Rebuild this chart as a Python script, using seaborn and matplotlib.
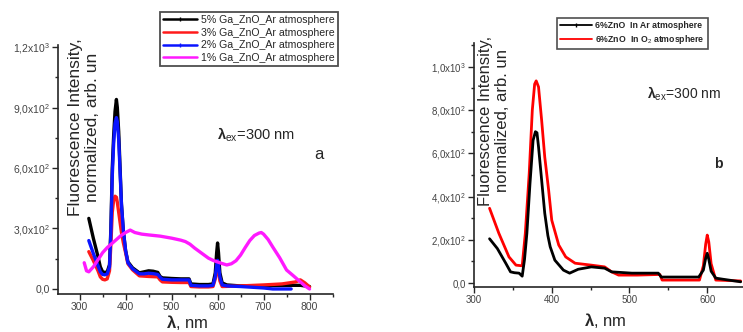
import numpy as np
import pandas as pd
import matplotlib
matplotlib.use("Agg")
import matplotlib.pyplot as plt
from matplotlib.ticker import FuncFormatter, MultipleLocator
import seaborn as sns

# -------------------------------------------------------------------------
# Data (wavelength nm, intensity arb. un)
# -------------------------------------------------------------------------

# panel a: Ga-doped ZnO in Ar
ga5_x = [320, 330, 340, 345, 350, 355, 360, 365, 368, 371, 374, 377, 380, 382, 385,
         388, 391, 395, 400, 405, 415, 430, 440, 450, 460, 470, 475, 480, 500, 520,
         538, 542, 560, 580, 590, 595, 598, 600, 602, 605, 610, 620, 650, 700, 750,
         780, 800]
ga5_y = [350, 250, 160, 110, 85, 82, 85, 120, 300, 600, 760, 880, 940, 900, 780,
         600, 420, 290, 190, 135, 105, 80, 85, 90, 88, 82, 62, 55, 52, 50,
         50, 25, 22, 22, 25, 80, 180, 228, 180, 80, 30, 20, 15, 16, 18,
         18, 12]

ga3_x = [320, 330, 340, 345, 350, 355, 360, 365, 368, 371, 374, 377, 380, 382, 385,
         388, 391, 395, 400, 405, 415, 430, 450, 470, 475, 480, 500, 520, 538, 542,
         560, 580, 590, 595, 598, 600, 602, 605, 610, 650, 700, 740, 770, 780, 790,
         800]
ga3_y = [185, 140, 90, 60, 48, 45, 50, 90, 220, 380, 440, 460, 455, 430, 380,
         330, 280, 230, 180, 125, 95, 65, 62, 60, 45, 35, 33, 32, 32, 12,
         10, 10, 12, 50, 90, 105, 90, 40, 12, 15, 20, 25, 35, 45, 30,
         10]

ga2_x = [320, 330, 340, 345, 350, 355, 360, 365, 368, 371, 374, 377, 380, 382, 385,
         388, 391, 395, 400, 405, 415, 430, 440, 450, 460, 470, 475, 480, 500, 520,
         538, 542, 560, 580, 590, 595, 598, 600, 602, 605, 610, 620, 650, 700, 720,
         760]
ga2_y = [240, 175, 115, 85, 72, 70, 75, 110, 280, 560, 720, 820, 850, 830, 740,
         580, 420, 290, 190, 130, 100, 75, 75, 78, 76, 72, 58, 48, 45, 45,
         45, 18, 15, 15, 18, 60, 120, 142, 120, 60, 20, 15, 12, 5, 0,
         0]

ga1_x = [310, 315, 320, 330, 340, 350, 360, 370, 380, 390, 400, 410, 420, 435, 450,
         475, 500, 520, 530, 540, 550, 565, 580, 590, 600, 610, 620, 630, 640, 650,
         660, 670, 680, 690, 695, 700, 710, 720, 735, 750, 765, 780, 790, 800]
ga1_y = [130, 90, 85, 110, 145, 180, 205, 225, 245, 265, 280, 292, 280, 272, 268,
         262, 252, 242, 235, 222, 203, 178, 153, 142, 134, 126, 119, 125, 140, 168,
         205, 240, 265, 277, 280, 272, 245, 208, 155, 94, 65, 35, 15, 0]

# panel b: undoped ZnO in Ar / O2
ar_x = [320, 330, 341, 347, 352, 358, 362, 365, 368, 372, 376, 379, 381, 383, 387,
        391, 395, 398, 404, 415, 423, 434, 451, 468, 477, 503, 537, 541, 560, 589,
        595, 598, 600, 602, 605, 611, 620, 643]
ar_y = [205, 160, 91, 52, 48, 46, 32, 110, 230, 460, 660, 700, 695, 630, 476,
        323, 220, 168, 106, 60, 46, 64, 75, 69, 52, 46, 46, 28, 28, 28,
        60, 115, 138, 110, 55, 23, 18, 6]

o2_x = [320, 332, 345, 354, 362, 366, 371, 375, 378, 380, 383, 387, 391, 396, 400,
        409, 418, 430, 451, 468, 477, 486, 510, 539, 542, 560, 590, 595, 598, 600,
        602, 605, 611, 643]
o2_y = [346, 230, 121, 83, 80, 230, 506, 800, 920, 935, 907, 753, 583, 430, 291,
        176, 121, 92, 83, 75, 52, 37, 37, 40, 14, 14, 14, 80, 180, 222,
        190, 90, 14, 10]

LABELS_A = ["5% Ga_ZnO_Ar atmosphere", "3% Ga_ZnO_Ar atmosphere",
            "2% Ga_ZnO_Ar atmosphere", "1% Ga_ZnO_Ar atmosphere"]
LABELS_B = ["6%ZnO  In Ar atmosphere", "6%ZnO  In O$_2$ atmosphere"]

COLORS_A = {LABELS_A[0]: "#000000", LABELS_A[1]: "#ff1a1a",
            LABELS_A[2]: "#0a14ff", LABELS_A[3]: "#ff19ff"}
COLORS_B = {LABELS_B[0]: "#000000", LABELS_B[1]: "#ff0000"}

W, H = 743, 332


def fx(px):
    return px / W


def fy(py):
    return 1 - py / H


def sci_comma(v, pos):
    """Origin style tick label: 9,0x10^2 with comma decimal."""
    if abs(v) < 1e-9:
        return "0,0"
    e = int(np.floor(np.log10(abs(v))))
    m = v / 10 ** e
    return f"{m:.1f}".replace(".", ",") + "x10$^{%d}$" % e


def long_form(xs, ys, labels):
    frames = [pd.DataFrame({"wl": x, "I": y, "series": lab})
              for x, y, lab in zip(xs, ys, labels)]
    return pd.concat(frames, ignore_index=True)


sns.set_style("ticks")
plt.rcParams["font.family"] = ["Liberation Sans", "DejaVu Sans"]
plt.rcParams["mathtext.fontset"] = "custom"
plt.rcParams["mathtext.rm"] = "Liberation Sans"
plt.rcParams["mathtext.it"] = "Liberation Sans:italic"
plt.rcParams["mathtext.bf"] = "Liberation Sans:bold"

fig = plt.figure(figsize=(W / 100, H / 100), dpi=100)
fig.patch.set_facecolor("white")

# -------------------------------------------------------------------------
# Panel a
# -------------------------------------------------------------------------
ax1 = fig.add_axes([fx(58), fy(294), fx(333 - 58), (294 - 45) / H])
df_a = long_form([ga5_x, ga3_x, ga2_x, ga1_x], [ga5_y, ga3_y, ga2_y, ga1_y], LABELS_A)
sns.lineplot(data=df_a, x="wl", y="I", hue="series", hue_order=LABELS_A,
             palette=COLORS_A, sort=False, estimator=None, linewidth=2.4,
             legend=False, ax=ax1)
ax1.set_xlim(253, 851)
ax1.set_ylim(-25, 1210)
ax1.xaxis.set_major_locator(MultipleLocator(100))
ax1.xaxis.set_minor_locator(MultipleLocator(50))
ax1.yaxis.set_major_locator(MultipleLocator(300))
ax1.yaxis.set_minor_locator(MultipleLocator(150))
ax1.yaxis.set_major_formatter(FuncFormatter(sci_comma))
ax1.tick_params(which="major", direction="out", length=4, width=1,
                labelsize=7.5, labelcolor="#444444", pad=2)
ax1.tick_params(which="minor", direction="out", length=2, width=1)
ax1.set_xlabel("")
ax1.set_ylabel("")
sns.despine(ax=ax1)
for s in ("left", "bottom"):
    ax1.spines[s].set_linewidth(1.2)

handles_a = [plt.Line2D([], [], color=COLORS_A[lab], lw=1.8,
                        marker="|" if i in (0, 2) else None, markersize=3)
             for i, lab in enumerate(LABELS_A)]
leg_a = ax1.legend(handles_a, LABELS_A, loc="upper left",
                   bbox_to_anchor=(fx(160), fy(12)), bbox_transform=fig.transFigure,
                   fontsize=7.6, frameon=True, fancybox=False, borderpad=0.3,
                   labelspacing=0.25, handlelength=3.2, handletextpad=0.4,
                   borderaxespad=0)
leg_a.get_frame().set_edgecolor("#222222")
leg_a.get_frame().set_linewidth(1.3)

fig.text(fx(217), fy(140), r"$\mathbf{\lambda}_{\mathrm{ex}}$=300 nm", fontsize=10.5,
         va="baseline")
fig.text(fx(314), fy(159), "a", fontsize=12, va="baseline")
fig.text(fx(84), fy(127), "Fluorescence Intensity,\nnormalized, arb. un",
         rotation=90, ha="center", va="center", multialignment="center",
         fontsize=12.5, linespacing=1.15)
fig.text(fx(187), fy(323), r"$\mathbf{\lambda}$, nm", ha="center", va="center",
         fontsize=12)

# -------------------------------------------------------------------------
# Panel b (cut off at right edge in the reference)
# -------------------------------------------------------------------------
ax2 = fig.add_axes([fx(474), fy(287), fx(W - 474), (287 - 43) / H])
df_b = long_form([o2_x, ar_x], [o2_y, ar_y], [LABELS_B[1], LABELS_B[0]])
sns.lineplot(data=df_b, x="wl", y="I", hue="series", hue_order=[LABELS_B[1], LABELS_B[0]],
             palette=COLORS_B, sort=False, estimator=None, linewidth=2.0,
             legend=False, ax=ax2)
ax2.set_xlim(300, 646)
ax2.set_ylim(-18, 1110)
ax2.xaxis.set_major_locator(MultipleLocator(100))
ax2.xaxis.set_minor_locator(MultipleLocator(50))
ax2.yaxis.set_major_locator(MultipleLocator(200))
ax2.yaxis.set_minor_locator(MultipleLocator(100))
ax2.yaxis.set_major_formatter(FuncFormatter(sci_comma))
ax2.tick_params(which="major", direction="out", length=4, width=1,
                labelsize=7, labelcolor="#444444", pad=2)
ax2.tick_params(which="minor", direction="out", length=2, width=1)
ax2.set_xlabel("")
ax2.set_ylabel("")
sns.despine(ax=ax2)
for s in ("left", "bottom"):
    ax2.spines[s].set_linewidth(1.2)

handles_b = [plt.Line2D([], [], color=COLORS_B[LABELS_B[0]], lw=1.3, marker="|", markersize=3),
             plt.Line2D([], [], color=COLORS_B[LABELS_B[1]], lw=1.3)]
leg_b = ax2.legend(handles_b, LABELS_B, loc="upper left",
                   bbox_to_anchor=(fx(557), fy(18)), bbox_transform=fig.transFigure,
                   frameon=True, fancybox=False, borderpad=0.35,
                   labelspacing=0.35, handlelength=3.6, handletextpad=0.4,
                   borderaxespad=0, prop={"weight": "bold", "size": 6.3})
leg_b.get_frame().set_edgecolor("#222222")
leg_b.get_frame().set_linewidth(1.2)

fig.text(fx(647), fy(99), r"$\mathbf{\lambda}_{\mathrm{ex}}$=300 nm", fontsize=10,
         va="baseline")
fig.text(fx(714), fy(168), "b", fontsize=10, fontweight="bold", va="baseline")
fig.text(fx(494), fy(121), "Fluorescence Intensity,\nnormalized, arb. un",
         rotation=90, ha="center", va="center", multialignment="center",
         fontsize=12, linespacing=1.2)
fig.text(fx(605), fy(320), r"$\mathbf{\lambda}$, nm", ha="center", va="center",
         fontsize=12)

fig.savefig("out.png", dpi=100)
